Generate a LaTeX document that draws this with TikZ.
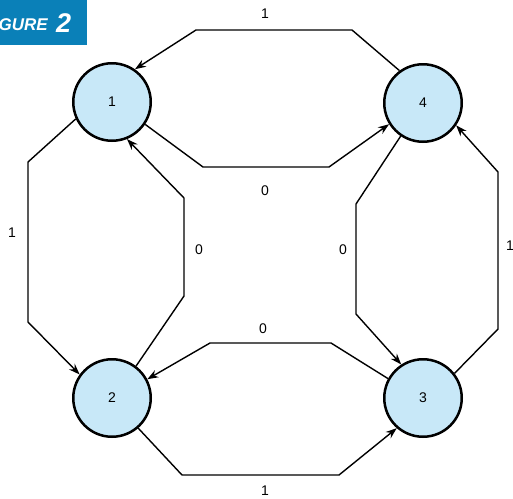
\documentclass[tikz,border=0pt]{standalone}
\usepackage{fontspec}
\setmainfont{Liberation Sans}
\usetikzlibrary{arrows.meta}
\definecolor{nodefill}{HTML}{C8E8F8}
\definecolor{figblue}{HTML}{0A80B8}
\begin{document}
\begin{tikzpicture}[x=1pt,y=-1pt,
  state/.style={circle,draw,line width=2.5pt,fill=nodefill,minimum size=77.5pt,inner sep=0pt,font=\fontsize{14}{14}\selectfont},
  edge/.style={line width=1.4pt,-{Stealth[length=11pt,width=8pt]}},
  lbl/.style={font=\fontsize{14}{14}\selectfont,inner sep=0pt}]
\useasboundingbox (0,0) rectangle (513,498);
\fill[figblue] (0,0) rectangle (87,45);
\begin{scope}
\clip (0,0) rectangle (87,45);
\node[anchor=base east, text=white, font=\fontsize{17}{17}\selectfont\bfseries\itshape, inner sep=0pt] (figword) at (48,30) {FIGURE};
\node[anchor=base west, text=white, font=\fontsize{27}{27}\selectfont\bfseries\itshape, inner sep=0pt] (fignum) at (56,32) {2};
\end{scope}

\node[state] (n1) at (112,102) {1};
\node[state] (n4) at (423,103) {4};
\node[state] (n2) at (112,398) {2};
\node[state] (n3) at (423,398) {3};

\draw[edge] (n4.126) -- (352,30) -- (196,30) -- (n1.55);
\draw[edge] (n1.-34) -- (203,167) -- (329,167) -- (n4.-148);
\draw[edge] (n1.205) -- (28,162) -- (28,322) -- (n2.144);
\draw[edge] (n2.53) -- (184,296) -- (184,198) -- (n1.-68);
\draw[edge] (n4.236) -- (356,204) -- (356,314) -- (n3.123);
\draw[edge] (n3.38) -- (498,329) -- (498,172) -- (n4.-34);
\draw[edge] (n3.151) -- (331,343) -- (210,343) -- (n2.28);
\draw[edge] (n2.-49) -- (182,475) -- (339,475) -- (n3.229);

\node[lbl] (l14) at (265,14) {1};
\node[lbl] (l41) at (265,191) {0};
\node[lbl] (l12) at (12,233) {1};
\node[lbl] (l21) at (199,250) {0};
\node[lbl] (l43) at (343,250) {0};
\node[lbl] (l34) at (510,246) {1};
\node[lbl] (l32) at (263,329) {0};
\node[lbl] (l23) at (265,491) {1};
\end{tikzpicture}
\end{document}
